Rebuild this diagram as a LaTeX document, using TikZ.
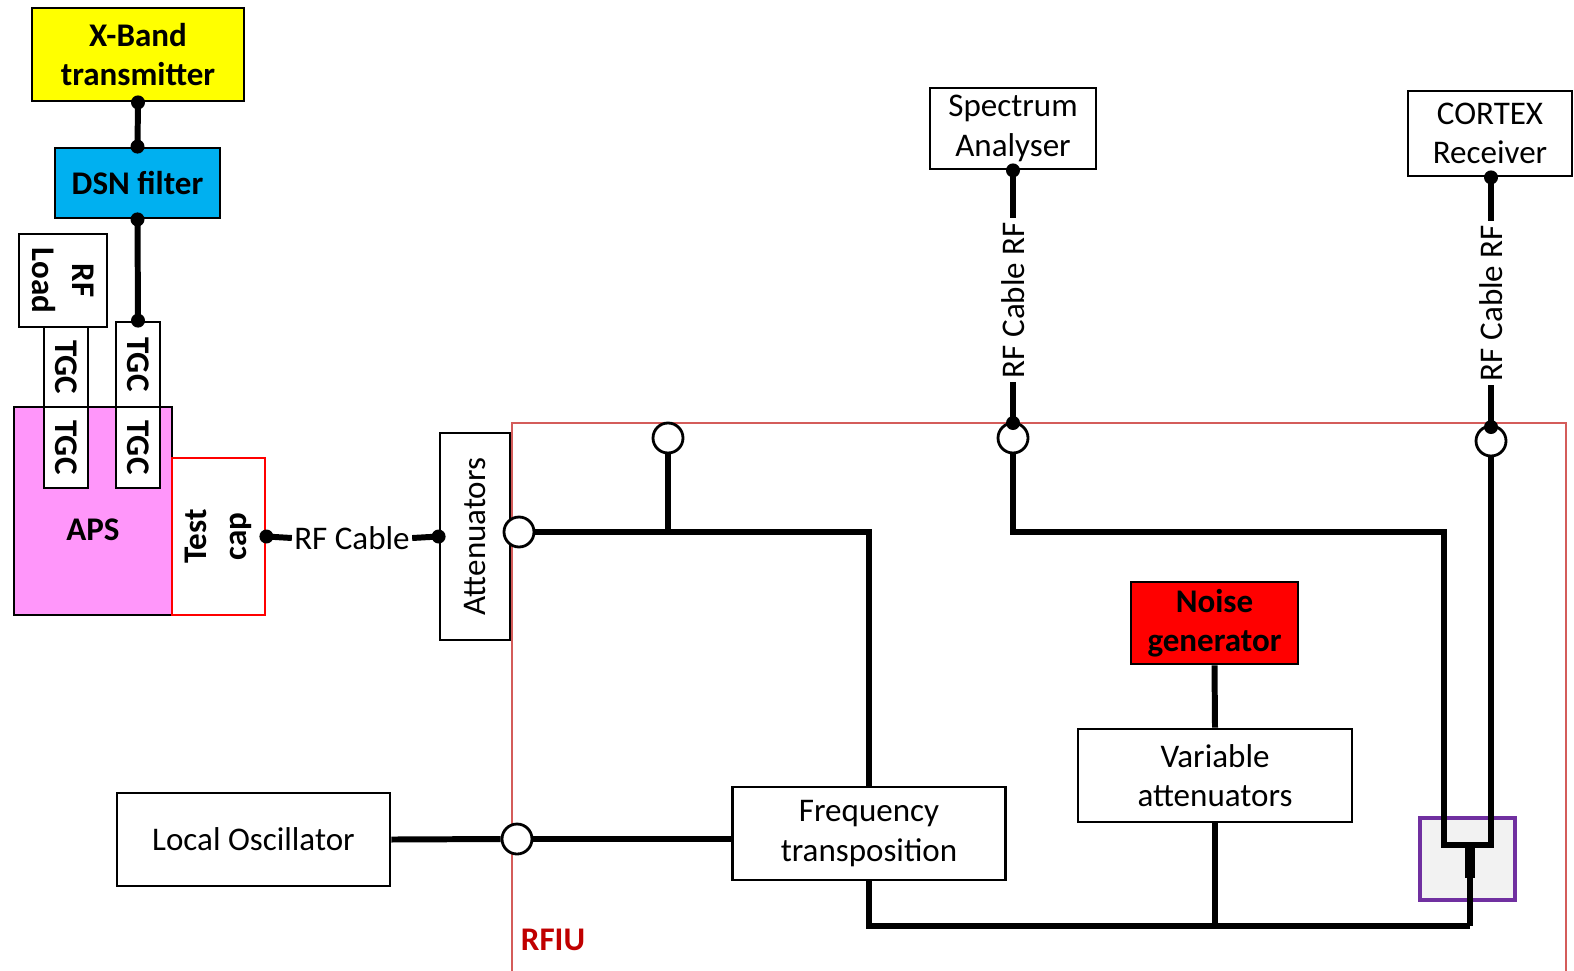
\documentclass[tikz,border=0pt]{standalone}
\usepackage{fontspec}
\setmainfont{Carlito}
\usetikzlibrary{positioning}

\definecolor{txyellow}{RGB}{255,255,0}
\definecolor{dsnblue}{RGB}{0,176,240}
\definecolor{apspink}{RGB}{255,150,250}
\definecolor{rfiured}{RGB}{212,92,90}
\definecolor{rfiutext}{RGB}{192,0,0}
\definecolor{mixpurple}{RGB}{112,48,160}

\tikzstyle{cable} = [line width=1.7pt]
\tikzstyle{box} = [
        rectangle,
        draw=black,
        line width=0.8pt,
        align=center,
        inner sep=1pt,
        font=\fontsize{9.4}{11.2}\selectfont,
    ]
\tikzstyle{boldbox} = [
        box,
        font=\fontsize{9.4}{11.2}\selectfont\bfseries,
    ]
\tikzstyle{port} = [
        circle,
        draw=black,
        fill=white,
        line width=0.8pt,
        minimum size=0.3cm,
        inner sep=0pt,
    ]
\tikzstyle{dot} = [
        circle,
        fill=black,
        minimum size=0.14cm,
        inner sep=0pt,
    ]
\tikzstyle{cablelabel} = [
        fill=white,
        inner sep=1pt,
        font=\fontsize{9.4}{11.2}\selectfont,
    ]

\begin{document}
\begin{tikzpicture}
            \useasboundingbox (0,0) rectangle (15.74,-9.70);
            % transmitter chain
            \node [boldbox, fill=txyellow, minimum width=2.12cm, minimum height=0.93cm] (xband) at (1.38,-0.545) {X-Band\\transmitter};
            \node [boldbox, fill=dsnblue, minimum width=1.65cm, minimum height=0.70cm] (dsn) at (1.375,-1.83) {DSN filter};
            \node [boldbox, rotate=-90, minimum width=0.93cm, minimum height=0.88cm] (rfload) at (0.63,-2.805) {RF\\Load};
            \node [boldbox, rotate=-90, minimum width=0.80cm, minimum height=0.44cm] (tgcul) at (0.66,-3.67) {TGC};
            \node [boldbox, rotate=-90, minimum width=0.85cm, minimum height=0.44cm] (tgcur) at (1.38,-3.645) {TGC};
            \node [box, fill=apspink, minimum width=1.58cm, minimum height=2.08cm] (aps) at (0.93,-5.11) {};
            \node [font=\fontsize{9.4}{11.2}\selectfont\bfseries] (apstext) at (0.93,-5.30) {APS};
            \node [boldbox, fill=white, rotate=-90, minimum width=0.81cm, minimum height=0.44cm] (tgcll) at (0.66,-4.475) {TGC};
            \node [boldbox, fill=white, rotate=-90, minimum width=0.81cm, minimum height=0.44cm] (tgclr) at (1.38,-4.475) {TGC};
            \node [boldbox, draw=red, fill=white, rotate=90, minimum width=1.57cm, minimum height=0.93cm] (testcap) at (2.185,-5.365) {Test\\cap};
            \node [cablelabel, inner sep=0.5pt] (rfcable) at (3.52,-5.38) {RF Cable};
            \node [box, rotate=90, minimum width=2.07cm, minimum height=0.70cm] (att) at (4.75,-5.365) {Attenuators};
            \node [box, minimum width=2.73cm, minimum height=0.93cm] (lo) at (2.535,-8.395) {Local Oscillator};

            % RFIU
            \draw [rfiured, line width=0.6pt] (5.12,-4.23) rectangle (15.66,-9.80);
            \node [font=\fontsize{9.4}{11.2}\selectfont\bfseries, text=rfiutext] (rfiu) at (5.53,-9.40) {RFIU};

            % instruments
            \node [box, minimum width=1.66cm, minimum height=0.81cm] (spec) at (10.13,-1.285) {Spectrum\\Analyser};
            \node [box, minimum width=1.64cm, minimum height=0.85cm] (cortex) at (14.90,-1.335) {CORTEX\\Receiver};

            % RFIU content
            \node [boldbox, fill=red, minimum width=1.67cm, minimum height=0.82cm] (noise) at (12.145,-6.23) {Noise\\generator};
            \node [box, minimum width=2.74cm, minimum height=0.93cm] (varatt) at (12.15,-7.755) {Variable\\attenuators};
            \node [box, minimum width=2.73cm, minimum height=0.93cm] (freq) at (8.69,-8.335) {Frequency\\transposition};
            \node [box, draw=mixpurple, line width=1.2pt, fill=gray!10, minimum width=0.95cm, minimum height=0.82cm] (mix) at (14.675,-8.59) {};

            \node [port] (p1) at (5.19,-5.32) {};
            \node [port] (p2) at (6.68,-4.38) {};
            \node [port] (p3) at (10.13,-4.38) {};
            \node [port] (p4) at (14.91,-4.41) {};
            \node [port] (p5) at (5.17,-8.39) {};
            \coordinate (mixtop) at (14.70,-8.45);
            \coordinate (sum) at (14.70,-9.26);

            % cables outside
            \draw [cable] (xband.south) -- (dsn.north);
            \draw [cable] (dsn.south) -- (tgcur.west);
            \draw [cable] (testcap.south) -- (rfcable.west);
            \draw [cable] (rfcable.east) -- (att.north);
            \draw [cable] (lo.east) -- (p5.west);
            \draw [cable] (spec.south) -- (p3.north);
            \draw [cable] (cortex.south -| p4) -- (p4.north);
            \node [cablelabel, rotate=90] (speccable) at (10.13,-3.00) {RF Cable RF};
            \node [cablelabel, rotate=90] (cortexcable) at (14.91,-3.03) {RF Cable RF};

            \node [dot] (d1) at (xband.south) {};
            \node [dot] (d2) at (dsn.north) {};
            \node [dot] (d3) at (dsn.south) {};
            \node [dot] (d4) at (tgcur.west) {};
            \node [dot] (d5) at (testcap.south) {};
            \node [dot] (d6) at (att.north) {};
            \node [dot] (d7) at (spec.south) {};
            \node [dot] (d8) at (cortex.south -| p4) {};
            \node [dot] (d9) at (10.13,-4.23) {};
            \node [dot] (d10) at (14.91,-4.27) {};

            % cables inside
            \draw [cable] (p1.east) -| (freq.north);
            \draw [cable] (p2.south) -- (p2 |- p1);
            \draw [cable] (p3.south) -- (10.13,-5.32) -| (14.44,-8.45) -- (14.91,-8.45) -- (p4.south);
            \draw [cable] (p5.east) -- (p5 -| freq.west);
            \draw [cable] (noise.south) -- (varatt.north);
            \draw [line width=2.6pt] (mixtop) -- (14.70,-8.78);
            \draw [cable] (14.70,-8.78) -- (sum);
            \draw [cable] (freq.south) |- (sum);
            \draw [cable] (varatt.south) -- (varatt.south |- sum);
        \end{tikzpicture}
\end{document}
